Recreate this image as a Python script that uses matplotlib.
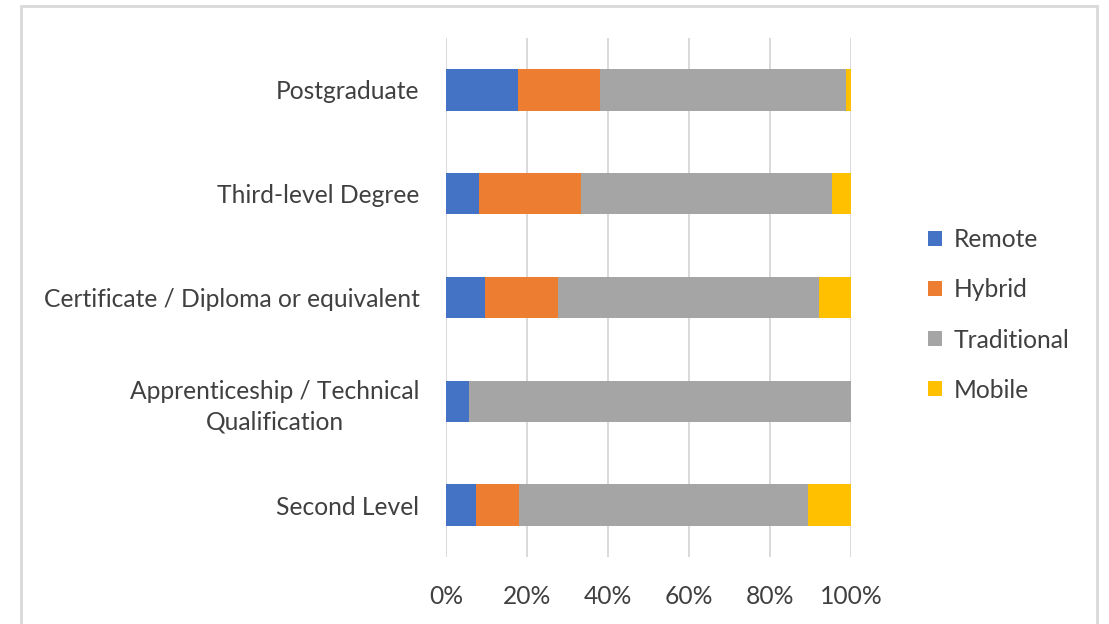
import matplotlib

matplotlib.use("Agg")
import matplotlib.pyplot as plt  # noqa: E402
from matplotlib.patches import Rectangle  # noqa: E402
from matplotlib.ticker import PercentFormatter  # noqa: E402

categories = [
    "Second Level",
    "Apprenticeship / Technical\nQualification",
    "Certificate / Diploma or equivalent",
    "Third-level Degree",
    "Postgraduate",
]
remote = [7.5, 5.7, 9.6, 8.2, 17.7]
hybrid = [10.6, 0.0, 18.1, 25.2, 20.3]
traditional = [71.2, 94.3, 64.5, 61.9, 60.8]
mobile = [10.7, 0.0, 7.8, 4.7, 1.2]
series_names = ["Remote", "Hybrid", "Traditional", "Mobile"]
series_colors = ["#4472C4", "#ED7D31", "#A5A5A5", "#FFC000"]

W, H = 1109, 624
plt.rcParams["font.family"] = ["Lato", "DejaVu Sans"]
fig = plt.figure(figsize=(W / 100, H / 100), dpi=100)
fig.patch.set_facecolor("white")
ax = fig.add_axes([446 / W, 1 - 557 / H, (851 - 446) / W, (557 - 38) / H])

left = [0.0] * len(categories)
for name, values, color in zip(
    series_names, (remote, hybrid, traditional, mobile), series_colors
):
    ax.barh(range(len(categories)), values, left=left, height=0.4,
            color=color, label=name, zorder=3)
    left = [a + b for a, b in zip(left, values)]

ax.set_xlim(0, 100)
ax.set_ylim(-0.5, len(categories) - 0.5)
ax.set_xticks(range(0, 101, 20))
ax.xaxis.set_major_formatter(PercentFormatter(decimals=0))
ax.set_yticks(range(len(categories)))
ax.set_yticklabels(categories, multialignment="center", linespacing=1.4)
ax.grid(axis="x", color="#D9D9D9", linewidth=1.4, zorder=0)
ax.tick_params(axis="both", length=0, labelsize=17.7, labelcolor="#404040")
ax.tick_params(axis="y", pad=19)
ax.tick_params(axis="x", pad=20)
for spine in ax.spines.values():
    spine.set_visible(False)

ax.legend(
    loc="center left",
    bbox_to_anchor=(906 / W, 1 - 315 / H),
    bbox_transform=fig.transFigure,
    frameon=False,
    fontsize=17.7,
    labelcolor="#404040",
    handlelength=0.55,
    handleheight=0.55,
    handletextpad=0.5,
    labelspacing=1.1,
)

fig.add_artist(Rectangle(
    (21 / W, -0.1), (1097 - 21) / W, 1.1 - 6 / H,
    transform=fig.transFigure, fill=False, edgecolor="#D9D9D9", linewidth=2,
))

fig.savefig("out.png", dpi=100, facecolor="white")
